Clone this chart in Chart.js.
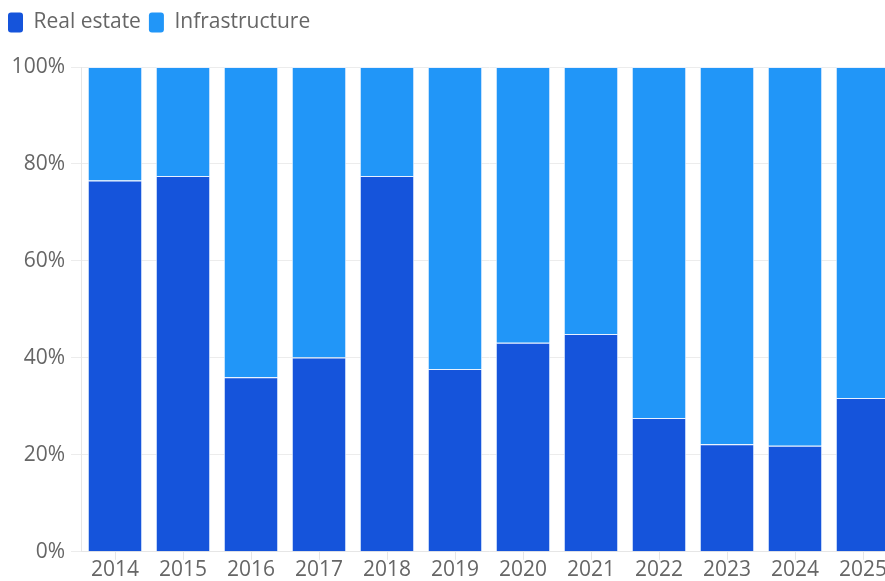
<!DOCTYPE html>
<html>
<head>
<meta charset="utf-8">
<script src="https://cdn.jsdelivr.net/npm/chart.js@4"></script>
<style>
html,body{margin:0;padding:0;overflow:hidden;background:#fff;width:885px;height:581px;}
#wrap{position:absolute;left:0;top:0;width:900px;height:581px;}
</style>
</head>
<body>
<div id="wrap"><canvas id="c"></canvas></div>
<script>
const categories = ['2014','2015','2016','2017','2018','2019','2020','2021','2022','2023','2024','2025'];
const realEstate = [76.6, 77.5, 36.0, 40.1, 77.5, 37.7, 43.1, 44.9, 27.6, 22.2, 21.9, 31.7];
const infrastructure = [23.4, 22.5, 64.0, 59.9, 22.5, 62.3, 56.9, 55.1, 72.4, 77.8, 78.1, 68.3];
const yTicks = [0, 20, 40, 60, 80, 100];

const font = "'Open Sans', sans-serif";
new Chart(document.getElementById('c'), {
  type: 'bar',
  data: {
    labels: categories,
    datasets: [
      {label: 'Real estate', data: realEstate, backgroundColor: '#1554DB', borderColor: 'rgba(230,240,255,0.9)', borderWidth: 1, categoryPercentage: 1, barPercentage: 0.8},
      {label: 'Infrastructure', data: infrastructure, backgroundColor: '#2196F8', borderColor: 'rgba(230,240,255,0.9)', borderWidth: 1, categoryPercentage: 1, barPercentage: 0.8}
    ]
  },
  options: {
    responsive: true,
    maintainAspectRatio: false,
    animation: false,
    layout: {padding: {left: 0, right: 3, top: 4, bottom: 0}},
    plugins: {
      legend: {
        position: 'top', align: 'start',
        labels: {
          font: {family: font, size: 21}, color: '#666',
          boxWidth: 15, boxHeight: 20, padding: 8, useBorderRadius: true, borderRadius: 3,
          generateLabels: chart => chart.data.datasets.map((d, i) => ({
            text: d.label, fillStyle: d.backgroundColor, strokeStyle: d.backgroundColor,
            lineWidth: 0, datasetIndex: i, fontColor: '#666', borderRadius: 3
          }))
        }
      },
      tooltip: {enabled: false}
    },
    scales: {
      x: {
        stacked: true,
        grid: {display: true, drawOnChartArea: false, offset: false, color: '#e6e6e6', tickLength: 8},
        border: {display: true, color: '#e6e6e6'},
        ticks: {font: {family: font, size: 21}, color: '#666', padding: -2}
      },
      y: {
        stacked: true, min: 0, max: 100,
        afterBuildTicks: s => { s.ticks = yTicks.map(v => ({value: v})); },
        afterFit: s => { s.width = 81; },
        grid: {color: '#ececec', tickLength: 10},
        border: {display: true, color: '#e6e6e6'},
        ticks: {font: {family: font, size: 21}, color: '#666', padding: 6, callback: v => v + '%'}
      }
    }
  },
  plugins: [{
    id: 'legendFit',
    beforeInit(chart) {
      const lg = chart.legend;
      const orig = lg.fit;
      lg.fit = function () { orig.call(this); this.height = 63; };
    }
  }]
});
</script>
</body>
</html>
